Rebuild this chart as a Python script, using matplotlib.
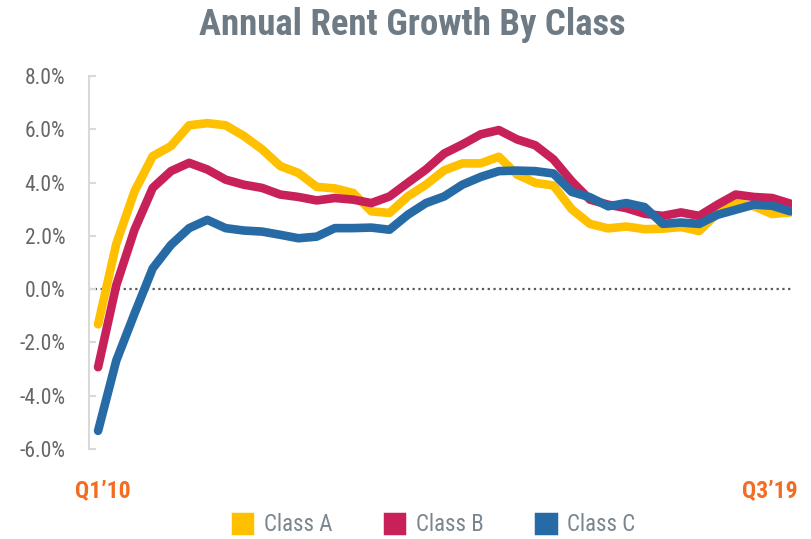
import matplotlib
matplotlib.use('Agg')
import matplotlib.pyplot as plt
from matplotlib.patches import Patch

plt.rcParams['font.family'] = ['Roboto Condensed', 'Lato', 'DejaVu Sans']

# quarterly annual rent growth, Q1'10 .. Q3'19 (39 quarters), in %
quarters = list(range(39))
class_a = [-1.32, 1.70, 3.67, 4.99, 5.37, 6.15, 6.23, 6.15, 5.75, 5.25, 4.62, 4.36, 3.84,
           3.78, 3.61, 2.92, 2.86, 3.48, 3.92, 4.46, 4.72, 4.72, 4.97, 4.30, 3.99, 3.89,
           3.00, 2.45, 2.28, 2.35, 2.25, 2.27, 2.33, 2.18, 2.85, 3.23, 3.11, 2.82, 2.88]
class_b = [-2.93, 0.15, 2.23, 3.80, 4.43, 4.74, 4.49, 4.11, 3.92, 3.80, 3.55, 3.46, 3.33,
           3.42, 3.36, 3.23, 3.48, 3.99, 4.49, 5.09, 5.43, 5.81, 5.97, 5.62, 5.40, 4.87,
           4.05, 3.36, 3.17, 3.04, 2.83, 2.75, 2.88, 2.75, 3.17, 3.55, 3.46, 3.42, 3.21]
class_c = [-5.32, -2.68, -0.92, 0.78, 1.66, 2.29, 2.60, 2.29, 2.20, 2.16, 2.04, 1.91, 1.97,
           2.29, 2.29, 2.31, 2.23, 2.79, 3.23, 3.48, 3.92, 4.21, 4.43, 4.45, 4.43, 4.34,
           3.65, 3.45, 3.11, 3.23, 3.08, 2.45, 2.50, 2.45, 2.79, 2.98, 3.17, 3.13, 2.92]
series_names = ['Class A', 'Class B', 'Class C']
colors = ['#ffc000', '#c8215a', '#276ba6']
yticks = [-6, -4, -2, 0, 2, 4, 6, 8]
first_label = "Q1\u201910"
last_label = "Q3\u201919"

fig = plt.figure(figsize=(8.11, 5.39), dpi=100)
ax = fig.add_axes([0.1097, 0.167, 0.867, 0.692])

ax.axhline(0, color='#595959', lw=1.6, ls=(0, (1, 1.6)), zorder=1)
for vals, c in zip([class_a, class_b, class_c], colors):
    ax.plot(quarters, vals, color=c, lw=6.2, solid_capstyle='round',
            solid_joinstyle='round', zorder=2)

ax.set_xlim(-0.5, 38.1)
ax.set_ylim(-6, 8)
ax.set_yticks(yticks)
ax.set_yticklabels(['%.1f%%' % v for v in yticks])
ax.set_xticks([])
for s in ['top', 'right', 'bottom']:
    ax.spines[s].set_visible(False)
ax.spines['left'].set_color('#d9d9d9')
ax.spines['left'].set_linewidth(1.5)
ax.tick_params(axis='y', direction='in', length=5, width=1.5, color='#d9d9d9',
               labelcolor='#666666', labelsize=15.5, pad=17)

fig.text(0.508, 0.935, 'Annual Rent Growth By Class', ha='center', va='baseline',
         fontsize=26.5, fontweight='bold', color='#6e7b85')
fig.text(0.0925, 0.078, first_label, ha='left', va='baseline', fontsize=17,
         fontweight='bold', color='#f26c22')
fig.text(0.983, 0.078, last_label, ha='right', va='baseline', fontsize=17,
         fontweight='bold', color='#f26c22')

handles = [Patch(facecolor=c, edgecolor=c, linewidth=2.5, joinstyle='round')
           for c in colors]
fig.legend(handles, series_names, loc='center', bbox_to_anchor=(0.535, 0.026), ncol=3,
           frameon=False, fontsize=16.5, labelcolor='#7a868f', handlelength=0.85,
           handleheight=0.85, handletextpad=0.5, columnspacing=2.3)

fig.savefig('out.png', dpi=100)
